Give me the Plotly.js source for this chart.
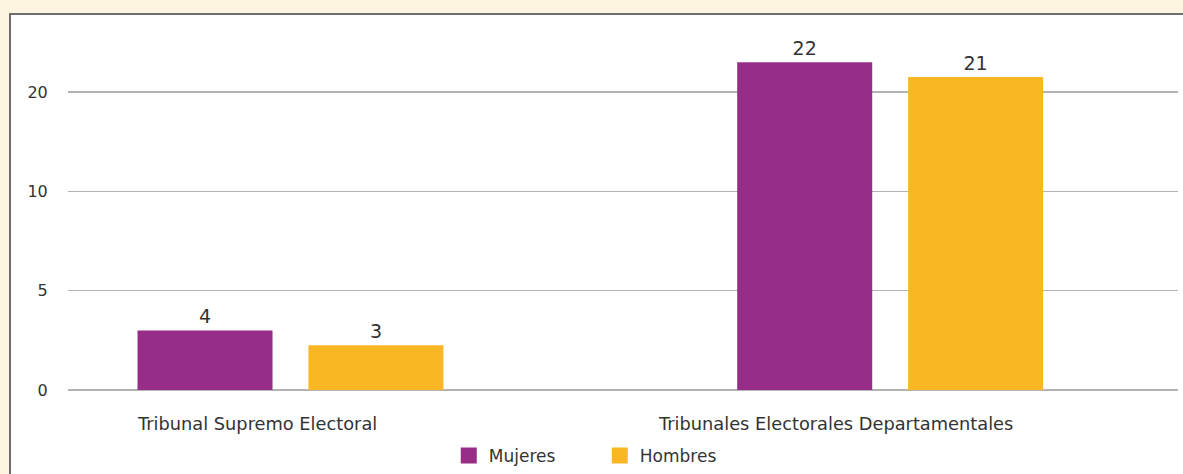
<!DOCTYPE html>
<html><head><meta charset="utf-8">
<script src="https://cdn.plot.ly/plotly-3.0.1.min.js"></script>
<style>
html,body{margin:0;padding:0;background:#fdf5df;width:1183px;height:474px;overflow:hidden;}
#panel{position:absolute;left:9px;top:13px;right:-5px;bottom:-5px;background:#fff;border-left:2px solid #6e6e6e;border-top:2px solid #6e6e6e;}
#chart{position:absolute;left:0;top:0;width:1183px;height:474px;}
</style></head><body>
<div id="panel"></div>
<div id="chart"></div>
<script>
const categories = ["Tribunal Supremo Electoral", "Tribunales Electorales Departamentales"];
const mujeres = [4, 22];
const hombres = [3, 21];
const seriesNames = ["Mujeres", "Hombres"];
const seriesColors = ["#982d88", "#f9b823"];
// tick labels as printed in the reference (positions on the drawn axis)
const tickValues = [0, 20/3, 40/3, 20];
const tickLabels = ["0", "5", "10", "20"];

const FONT = "'DejaVu Sans', sans-serif";
const catIdx = categories.map((c, i) => i);

const barTrace = (vals, k) => ({
  type: "bar", name: seriesNames[k], x: catIdx, y: vals, marker: {color: seriesColors[k]},
  text: vals.map(String), textposition: "outside", cliponaxis: false, showlegend: false,
  textfont: {size: 19, color: "#333", family: FONT}
});
const legendTrace = k => ({
  type: "scatter", mode: "markers", name: seriesNames[k], x: [null], y: [null],
  marker: {symbol: "square", size: 18, color: seriesColors[k]}, showlegend: true
});

const traces = [barTrace(mujeres, 0), barTrace(hombres, 1), legendTrace(0), legendTrace(1)];

const layout = {
  width: 1183, height: 474,
  margin: {l: 68, r: 5, t: 20, b: 84},
  paper_bgcolor: "rgba(0,0,0,0)", plot_bgcolor: "rgba(0,0,0,0)",
  font: {family: FONT, color: "#333"},
  barmode: "group", bargap: 0.43, bargroupgap: 0.21,
  xaxis: {type: "linear", range: [-0.371, 1.48], showticklabels: false, showgrid: false,
          zeroline: false, showline: false, fixedrange: true},
  yaxis: {range: [0, 24.83], tickvals: tickValues, ticktext: tickLabels,
          tickfont: {size: 16, color: "#333", family: FONT},
          ticks: "outside", ticklen: 16, tickcolor: "rgba(0,0,0,0)",
          showgrid: true, gridcolor: "#b3b3b3", gridwidth: 1.5,
          zeroline: true, zerolinecolor: "#b3b3b3", zerolinewidth: 1.5, showline: false},
  showlegend: true,
  legend: {orientation: "h", xref: "container", yref: "container", x: 0.507, xanchor: "center",
           y: -0.004, yanchor: "bottom", font: {size: 17, color: "#333", family: FONT},
           itemsizing: "trace", entrywidth: 106, bgcolor: "rgba(0,0,0,0)"},
  annotations: categories.map((c, i) => ({
    x: i, y: 0, xref: "x", yref: "y", yanchor: "top", yshift: -21,
    xshift: [-33, -55][i], text: c, showarrow: false,
    font: {size: 17.8, color: "#333", family: FONT}
  }))
};

Plotly.newPlot("chart", traces, layout, {displayModeBar: false, staticPlot: true});
</script>
</body></html>
